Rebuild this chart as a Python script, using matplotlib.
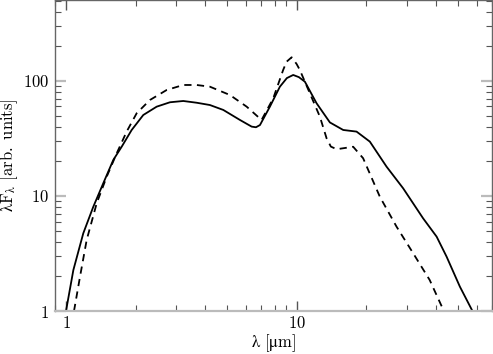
import matplotlib
matplotlib.use("Agg")
import matplotlib.pyplot as plt
from matplotlib.ticker import FixedLocator, FixedFormatter, LogLocator, NullFormatter

plt.rcParams['mathtext.fontset'] = 'cm'
plt.rcParams['font.family'] = 'serif'
plt.rcParams['font.serif'] = ['DejaVu Serif']

# solid curve (lambda in micron, lambda F_lambda)
solid_x = [1.000, 1.076, 1.188, 1.313, 1.450, 1.603, 1.742, 1.925, 2.161, 2.470,
           2.820, 3.220, 3.680, 4.20, 4.80, 5.67, 6.37, 6.65, 6.92, 7.64, 8.44,
           9.05, 9.64, 10.2, 10.83, 12.17, 13.90, 15.87, 18.13, 20.70, 24.45, 28.85, 35.2,
           40.3, 44.5, 50.8, 57.6]
solid_y = [1.00, 2.27, 4.74, 8.07, 12.9, 20.6, 26.8, 37.5, 50.6, 59.8,
           65.3, 67.0, 64.7, 61.8, 56.0, 45.8, 40.1, 39.6, 41.4, 59.8, 89.2,
           106.0, 112.8, 108.0, 98.6, 64.0, 43.6, 37.5, 36.3, 29.7, 18.0, 11.67, 6.40,
           4.43, 2.97, 1.63, 1.00]

# dashed curve
dash_x = [1.083, 1.150, 1.229, 1.358, 1.500, 1.658, 1.831, 2.023, 2.311, 2.729,
          3.220, 3.680, 4.20, 5.13, 6.06, 7.03, 7.90, 8.72, 9.02, 9.49, 9.97, 10.30,
          11.38, 12.58, 13.45, 14.03, 14.86, 17.53, 19.36, 22.87, 27.02, 31.88,
          37.6, 43.3]
dash_y = [1.00, 1.99, 4.15, 8.64, 14.7, 23.5, 36.3, 52.4, 68.4, 83.5,
          92.3, 92.3, 89.2, 75.5, 59.8, 45.8, 70.7, 124.6, 147.0, 160.7, 140.6, 124.6,
          78.2, 48.9, 31.7, 26.9, 25.5, 26.8, 21.3, 9.86, 5.41, 3.18,
          1.86, 1.00]

xticks = [1, 10]
yticks = [1, 10, 100]

fig = plt.figure(figsize=(4.93, 3.54), dpi=100)
ax = fig.add_axes([55 / 493, 43 / 354, 437 / 493, 311 / 354])

ax.plot(solid_x, solid_y, color='black', lw=1.3,
        solid_joinstyle='round', solid_capstyle='round')
ax.plot(dash_x, dash_y, color='black', lw=1.3, ls=(0, (4, 3)),
        dash_joinstyle='round')

ax.set_xscale('log')
ax.set_yscale('log')
ax.set_xlim(0.896, 70)
ax.set_ylim(1, 506)

ax.xaxis.set_major_locator(FixedLocator(xticks))
ax.xaxis.set_major_formatter(FixedFormatter(['$%d$' % t for t in xticks]))
ax.yaxis.set_major_locator(FixedLocator(yticks))
ax.yaxis.set_major_formatter(FixedFormatter(['$%d$' % t for t in yticks]))
ax.xaxis.set_minor_locator(LogLocator(base=10, subs=range(2, 10)))
ax.yaxis.set_minor_locator(LogLocator(base=10, subs=range(2, 10)))
ax.xaxis.set_minor_formatter(NullFormatter())
ax.yaxis.set_minor_formatter(NullFormatter())

for s in ax.spines.values():
    s.set_color('#666666')
    s.set_linewidth(1.0)
ax.spines['bottom'].set_color('#bbbbbb')
ax.spines['bottom'].set_linewidth(1.6)

ax.tick_params(which='both', direction='in', top=True, right=True, labelsize=12)
ax.tick_params(axis='y', which='major', length=8, width=1.6, color='#bbbbbb', pad=4)
ax.tick_params(axis='x', which='major', length=7, width=1.0, color='#555555', pad=3)
ax.tick_params(which='minor', length=4, width=0.8, color='#555555')

ax.set_xlabel(r'$\mathrm{λ\ [μm]}$', fontsize=12, labelpad=0)
ax.set_ylabel(r'$\mathrm{λF_{λ}\ [arb.\ units]}$', fontsize=12, labelpad=2)

fig.savefig('out.png', dpi=100)
